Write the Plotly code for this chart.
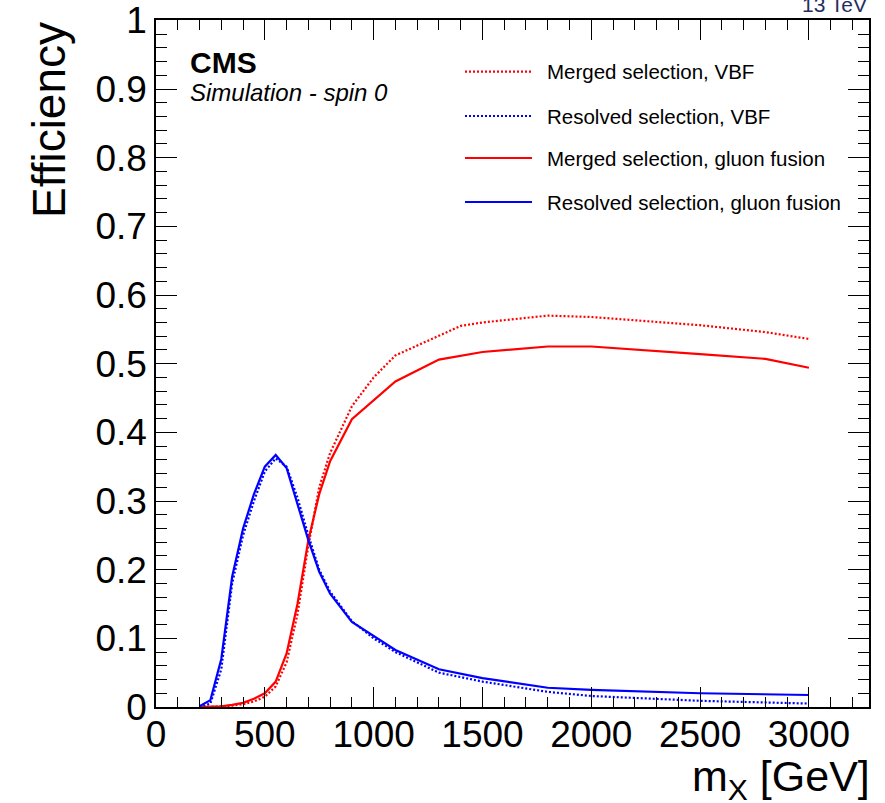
import plotly.graph_objects as go

# Signal mass points (GeV) and selection efficiencies
mass = [200, 250, 300, 350, 400, 450, 500, 550, 600, 650, 700, 750, 800,
        900, 1000, 1100, 1300, 1400, 1500, 1800, 2000, 2500, 2800, 3000]

merged_vbf = [0.000, 0.000, 0.001, 0.002, 0.004, 0.008, 0.015, 0.030, 0.065,
              0.135, 0.235, 0.320, 0.370, 0.438, 0.480, 0.512, 0.540, 0.555,
              0.560, 0.570, 0.568, 0.556, 0.546, 0.536]
resolved_vbf = [0.000, 0.005, 0.055, 0.180, 0.250, 0.300, 0.343, 0.362, 0.350,
                0.305, 0.250, 0.200, 0.168, 0.125, 0.100, 0.080, 0.050, 0.043,
                0.037, 0.022, 0.016, 0.009, 0.006, 0.005]
merged_ggf = [0.000, 0.000, 0.001, 0.003, 0.006, 0.012, 0.020, 0.037, 0.078,
              0.150, 0.243, 0.310, 0.358, 0.419, 0.447, 0.474, 0.506, 0.511,
              0.517, 0.525, 0.525, 0.514, 0.507, 0.494]
resolved_ggf = [0.001, 0.010, 0.070, 0.190, 0.260, 0.310, 0.350, 0.367, 0.348,
                0.295, 0.243, 0.197, 0.165, 0.124, 0.103, 0.083, 0.055, 0.048,
                0.042, 0.028, 0.025, 0.020, 0.018, 0.0175]

legend_labels = ["Merged selection, VBF", "Resolved selection, VBF",
                 "Merged selection, gluon fusion", "Resolved selection, gluon fusion"]

x_tickvals = [0, 500, 1000, 1500, 2000, 2500, 3000]
x_ticktext = ["0", "500", "1000", "1500", "2000", "2500", "3000"]
y_tickvals = [0, 0.1, 0.2, 0.3, 0.4, 0.5, 0.6, 0.7, 0.8, 0.9, 1.0]
y_ticktext = ["0", "0.1", "0.2", "0.3", "0.4", "0.5", "0.6", "0.7", "0.8", "0.9", "1"]

RED = "#ff0000"
BLUE = "#0000ff"
DOT = "2px,2px"
FONT = "Liberation Sans, Arial, Helvetica, sans-serif"

series = [
    (merged_vbf, RED, DOT),
    (resolved_vbf, BLUE, DOT),
    (merged_ggf, RED, "solid"),
    (resolved_ggf, BLUE, "solid"),
]

W, H = 885, 803
L, R, T, B = 156, 16, 20, 96
pw, ph = W - L - R, H - T - B


def px(x):
    return (x - L) / pw


def py(y):
    return (H - B - y) / ph


fig = go.Figure()
for (vals, col, dash), name in zip(series, legend_labels):
    fig.add_trace(go.Scatter(x=mass, y=vals, mode="lines", name=name,
                             line=dict(color=col, width=2.2, dash=dash)))

axis_common = dict(
    showgrid=False, zeroline=False, showline=True, linecolor="#000000",
    linewidth=1.5, mirror="allticks", ticks="inside", tickcolor="#000000",
    tickwidth=1.3, tickmode="array", automargin=False,
    tickfont=dict(family=FONT, size=37, color="#000000"),
)

fig.update_xaxes(range=[0, 3276], tickvals=x_tickvals, ticktext=x_ticktext,
                 ticklen=20, ticklabelstandoff=-6,
                 minor=dict(dtick=100, tick0=0, ticklen=10, ticks="inside",
                            tickcolor="#000000", tickwidth=1.3),
                 **axis_common)
fig.update_yaxes(range=[0, 1.0005], tickvals=y_tickvals, ticktext=y_ticktext,
                 ticklen=21,
                 minor=dict(dtick=0.02, tick0=0, ticklen=11, ticks="inside",
                            tickcolor="#000000", tickwidth=1.3),
                 **axis_common)

# Legend block drawn in the upper part of the frame
row_y = [71.7, 116, 158, 202]
shapes = []
annotations = []
for (vals, col, dash), name, yy in zip(series, legend_labels, row_y):
    shapes.append(dict(type="line", xref="paper", yref="paper",
                       x0=px(465), x1=px(532), y0=py(yy), y1=py(yy),
                       line=dict(color=col, width=2.2, dash=dash)))
    annotations.append(dict(xref="paper", yref="paper", x=px(545), y=py(yy),
                            xanchor="left", yanchor="middle", showarrow=False,
                            text=name, font=dict(family=FONT, size=20.5, color="#000000")))

annotations += [
    dict(xref="paper", yref="paper", x=px(188), y=py(62), xanchor="left",
         yanchor="middle", showarrow=False, text="<b>CMS</b>",
         font=dict(family=FONT, size=30, color="#000000")),
    dict(xref="paper", yref="paper", x=px(188), y=py(93), xanchor="left",
         yanchor="middle", showarrow=False, text="<i>Simulation - spin 0</i>",
         font=dict(family=FONT, size=24, color="#000000")),
    dict(xref="paper", yref="paper", x=px(869), y=py(4), xanchor="right",
         yanchor="middle", showarrow=False, text="13 TeV",
         font=dict(family=FONT, size=21, color="#1f2f5f")),
    dict(xref="paper", yref="paper", x=px(49), y=py(20), xanchor="center",
         yanchor="top", showarrow=False, text="Efficiency", textangle=-90,
         font=dict(family=FONT, size=46, color="#000000")),
    dict(xref="paper", yref="paper", x=px(872), y=py(779), xanchor="right",
         yanchor="middle", showarrow=False, text="m<sub>X</sub> [GeV]",
         font=dict(family=FONT, size=43, color="#000000")),
]

fig.update_layout(
    width=W, height=H, margin=dict(l=L, r=R, t=T, b=B, autoexpand=False),
    paper_bgcolor="#ffffff", plot_bgcolor="#ffffff",
    showlegend=False, shapes=shapes, annotations=annotations,
    font=dict(family=FONT),
)

fig.write_html("out.html")
